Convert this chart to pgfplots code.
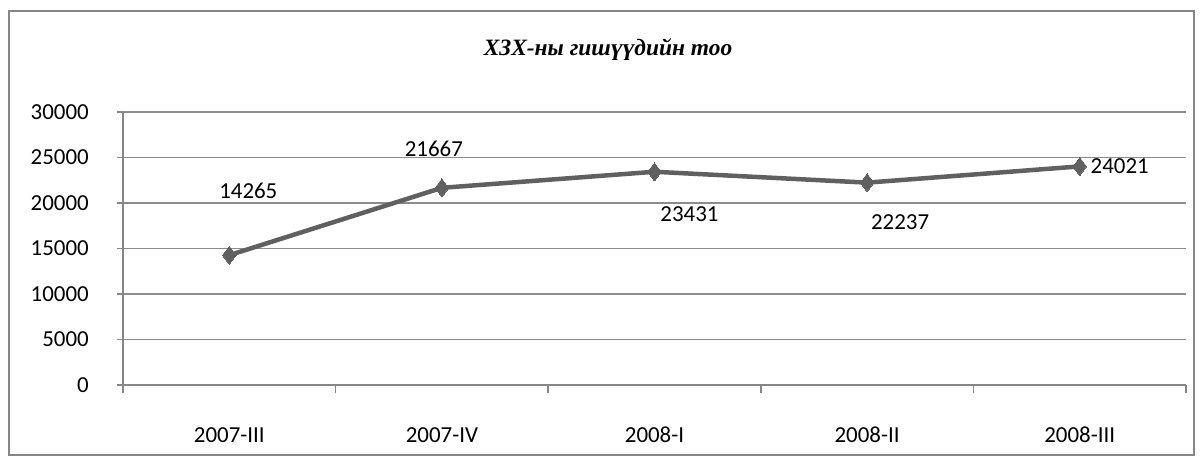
\documentclass[border=0pt]{standalone}
\usepackage{pgfplots}
\pgfplotsset{compat=1.18}
\usepackage{fontspec}
\setmainfont{Carlito}
\newfontfamily\titlefont{Liberation Serif}
\definecolor{linegray}{RGB}{96,96,96}
\definecolor{axisgray}{RGB}{134,134,134}
\definecolor{gridgray}{RGB}{140,140,140}
\begin{document}
\begin{tikzpicture}[x=1bp,y=1bp]
\useasboundingbox (0,0) rectangle (1203,461);
\draw[axisgray, line width=2bp] (9,6) rectangle (1194,450);
\node[font=\titlefont\bfseries\itshape\fontsize{23.5}{26}\selectfont] at (608,411) {ХЗХ-ны гишүүдийн тоо};
\begin{axis}[
  at={(123bp,76bp)}, anchor=south west,
  scale only axis, width=1063bp, height=273bp,
  xmin=-0.5, xmax=4.5, ymin=0, ymax=30000,
  enlargelimits=false,
  axis x line*=bottom, axis y line*=left,
  axis line style={draw=axisgray, line width=1.5bp, -},
  xtick={0,1,2,3,4},
  xticklabels={2007-III,2007-IV,2008-I,2008-II,2008-III},
  minor xtick={-0.5,0.5,1.5,2.5,3.5,4.5},
  major x tick style={draw=none},
  minor x tick style={draw=axisgray, line width=1.5bp},
  ytick={0,5000,10000,15000,20000,25000,30000},
  ytick style={draw=axisgray, line width=1.2bp},
  tick align=outside,
  major tick length=6bp, minor tick length=8bp,
  scaled y ticks=false,
  /pgf/number format/fixed, /pgf/number format/1000 sep={}, /pgf/number format/assume math mode=true,
  ymajorgrids, major grid style={draw=gridgray, line width=1.2bp},
  tick label style={font=\fontsize{23}{26}\selectfont},
  xticklabel style={anchor=north, inner sep=0pt, yshift=-36bp},
  yticklabel style={anchor=east, inner sep=0pt, xshift=-28bp},
  clip=false,
]
\addplot[color=linegray, line width=4.5bp, line join=round,
  mark=diamond*, mark size=9bp, mark options={fill=linegray, draw=linegray, line width=0bp},
  point meta=explicit symbolic,
  visualization depends on={\thisrow{dx} \as \dx},
  visualization depends on={\thisrow{dy} \as \dy},
  nodes near coords,
  every node near coord/.append style={anchor=center, text=black, font=\fontsize{23}{26}\selectfont, xshift=\dx bp, yshift=\dy bp},
] table[meta=lbl] {
x y dx dy lbl
0 14265 19 64 14265
1 21667 -8 39 21667
2 23431 35 -42 23431
3 22237 33 -40 22237
4 24021 40 0 24021
};
\end{axis}
\end{tikzpicture}
\end{document}
